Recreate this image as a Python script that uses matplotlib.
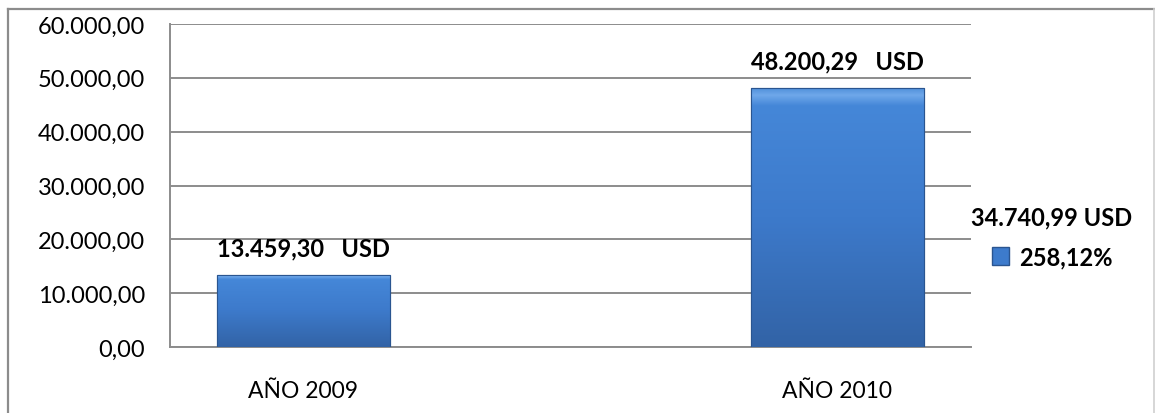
import numpy as np
import matplotlib
matplotlib.use("Agg")
import matplotlib.pyplot as plt
from matplotlib.lines import Line2D
from matplotlib.colors import LinearSegmentedColormap
from matplotlib.patches import Rectangle

plt.rcParams['font.family'] = ['Lato', 'DejaVu Sans']

# Data: yearly totals in USD (middle slot left empty as a spacer)
categories = ["AÑO 2009", "", "AÑO 2010"]
values = [13459.30, np.nan, 48200.29]
y_ticks = [0, 10000, 20000, 30000, 40000, 50000, 60000]


def fmt_es(v, decimals=2):
    s = f"{v:,.{decimals}f}"
    return s.replace(",", "X").replace(".", ",").replace("X", ".")


first, last = values[0], values[-1]
diff = last - first
pct = diff / first * 100

FS = 17

fig = plt.figure(figsize=(11.55, 4.14), dpi=100)
ax = fig.add_axes([170 / 1155, 66 / 414, 801 / 1155, 323 / 414])

grid_c = "#8c8c8c"
x = np.arange(len(categories))
bars = ax.bar(x, values, width=0.65, color="#3d7bcc", edgecolor="#2a5590",
              linewidth=0.8, zorder=3)

# vertical gradient with a light bevel at the top of each bar
cmap = LinearSegmentedColormap.from_list(
    "bev", [(0.0, "#3263a6"), (0.5, "#3d7acb"), (0.93, "#4587d8"),
            (0.97, "#6fa8ea"), (1.0, "#4e8ed9")])
grad = np.linspace(0, 1, 256).reshape(-1, 1)
for b in bars:
    h = b.get_height()
    if not np.isfinite(h):
        continue
    x0, w = b.get_x(), b.get_width()
    im = ax.imshow(grad, cmap=cmap, origin="lower", aspect="auto",
                   extent=[x0, x0 + w, 0, h], zorder=3.5)
    im.set_clip_path(b)
    ax.add_patch(Rectangle((x0, 0), w, h, fill=False, edgecolor="#2a5590",
                           linewidth=0.8, zorder=4))

for xi, v in zip(x, values):
    if not np.isfinite(v):
        continue
    ax.annotate(f"{fmt_es(v)}   USD", (xi, v), xytext=(0, 11),
                textcoords="offset points", ha="center", va="bottom",
                fontsize=FS, fontweight="bold", color="#000000", zorder=5)

ax.set_xlim(-0.5, len(categories) - 0.5)
ax.set_ylim(0, 60000)
ax.set_yticks(y_ticks)
ax.set_yticklabels([fmt_es(t) for t in y_ticks], fontsize=FS)
ax.set_xticks(x)
ax.set_xticklabels(categories, fontsize=FS - 0.5)
ax.tick_params(axis="y", length=0, pad=18)
ax.tick_params(axis="x", length=0, pad=24)
ax.yaxis.grid(True, color=grid_c, linewidth=1.4, zorder=0)
ax.set_axisbelow(True)
for s in ("top", "right"):
    ax.spines[s].set_visible(False)
for s in ("left", "bottom"):
    ax.spines[s].set_color(grid_c)
    ax.spines[s].set_linewidth(1.4)

# legend with the absolute change as title and the relative change as entry
handle = Rectangle((0, 0), 1, 1, facecolor="#3d7bcc", edgecolor="#2a5590")
leg = fig.legend([handle], [f"{fmt_es(pct)}%"], loc="center",
                 bbox_to_anchor=(1052 / 1155, 1 - 238 / 414), frameon=False,
                 title=f"{fmt_es(diff)} USD", handlelength=0.75,
                 handleheight=0.75, handletextpad=0.4, fontsize=FS)
for t in leg.get_texts():
    t.set_fontweight("bold")
leg.get_title().set_fontweight("bold")
leg.get_title().set_fontsize(FS)
leg._legend_box.sep = 12

# outer chart frame
fc = "#8c8c8c"
fig.add_artist(Line2D([7.5 / 1155, 7.5 / 1155], [0, 1 - 9.5 / 414],
                      color=fc, linewidth=1.6, transform=fig.transFigure))
fig.add_artist(Line2D([7.5 / 1155, 1153.5 / 1155], [1 - 9.5 / 414, 1 - 9.5 / 414],
                      color=fc, linewidth=1.6, transform=fig.transFigure))
fig.add_artist(Line2D([1153.5 / 1155, 1153.5 / 1155], [0, 1 - 9.5 / 414],
                      color="#d0d0d0", linewidth=1.2, transform=fig.transFigure))

fig.savefig("out.png", dpi=100)
